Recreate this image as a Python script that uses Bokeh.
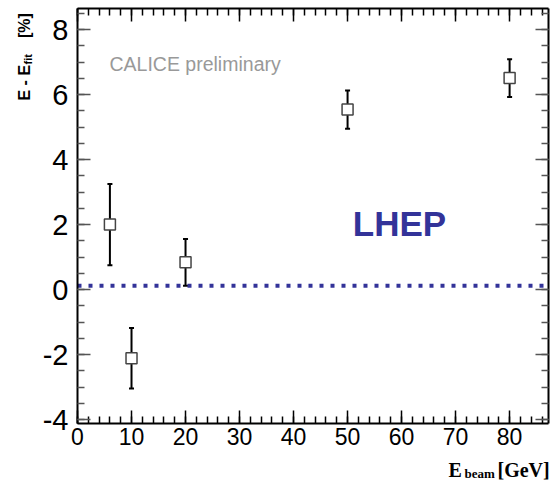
import math
from bokeh.plotting import figure
from bokeh.models import (Range1d, LinearAxis, SingleIntervalTicker, Whisker, TeeHead,
                          ColumnDataSource, Label, CustomJSTickFormatter)
from bokeh.embed import file_html
from bokeh.resources import INLINE

# ---- data ----
beam_energy = [6, 10, 20, 50, 80]            # GeV
residual = [2.0, -2.11, 0.84, 5.54, 6.51]    # E - E_fit [%]
residual_err = [1.25, 0.93, 0.72, 0.59, 0.58]
fit_line_level = 0.12
x_ticks_interval = 10
y_ticks_interval = 2

# ---- layout: axes box inside the canvas ----
W, H = 551, 481
L, R, T, B = 77, 3, 8, 58          # box edges (px) measured from canvas sides
x0, x1 = 0.0, 87.2                 # axis extent
y0, y1 = -4.12, 8.65
bw, bh = W - L - R, H - T - B
kx = (x1 - x0) / bw
ky = (y1 - y0) / bh


def dx(px):
    return x0 + (px - L) * kx


def dy(py):
    return y1 - (py - T) * ky


p = figure(width=W, height=H,
           x_range=Range1d(dx(0), dx(W)), y_range=Range1d(dy(H), dy(0)),
           output_backend="svg", toolbar_location=None,
           x_axis_type=None, y_axis_type=None,
           min_border=0, min_border_left=0, min_border_right=0,
           min_border_top=0, min_border_bottom=0)
p.outline_line_color = None
p.background_fill_color = "white"
p.border_fill_color = "white"
p.xgrid.visible = False
p.ygrid.visible = False

hyphen_fmt = "return Math.round(tick).toString()"


def style_axis(ax, interval, nminor, labels, font_size=None, standoff=0, tick_color="black"):
    ax.ticker = SingleIntervalTicker(interval=interval, num_minor_ticks=nminor)
    ax.axis_line_color = "black"
    ax.axis_line_width = 2
    ax.major_tick_in = 13
    ax.major_tick_out = 0
    ax.minor_tick_in = 7
    ax.minor_tick_out = 0
    ax.major_tick_line_color = tick_color
    ax.minor_tick_line_color = tick_color
    ax.major_tick_line_width = 1.5
    ax.minor_tick_line_width = 1.5
    if labels:
        ax.formatter = CustomJSTickFormatter(code=hyphen_fmt)
        ax.major_label_text_font = "Liberation Sans"
        ax.major_label_text_font_size = font_size
        ax.major_label_text_color = "black"
        ax.major_label_standoff = standoff
    else:
        ax.formatter = CustomJSTickFormatter(code="return ''")
        ax.major_label_standoff = 0
        ax.major_label_text_font_size = "1px"


bottom = LinearAxis(fixed_location=y0, bounds=(x0, x1))
style_axis(bottom, x_ticks_interval, 5, True, "23px", 4)
p.add_layout(bottom, "below")
top = LinearAxis(fixed_location=y1, bounds=(x0, x1))
style_axis(top, x_ticks_interval, 5, False)
p.add_layout(top, "above")
left = LinearAxis(fixed_location=x0, bounds=(y0, y1))
style_axis(left, y_ticks_interval, 4, True, "29px", 9, tick_color="#555555")
p.add_layout(left, "left")
right = LinearAxis(fixed_location=x1, bounds=(y0, y1))
style_axis(right, y_ticks_interval, 4, False, tick_color="#555555")
p.add_layout(right, "right")

# fit line (dotted) across the axis box
p.line(x=[x0, x1], y=[fit_line_level, fit_line_level], line_color="#333399",
       line_width=4, line_dash="4 7")

src = ColumnDataSource(dict(
    x=beam_energy, y=residual,
    upper=[v + e for v, e in zip(residual, residual_err)],
    lower=[v - e for v, e in zip(residual, residual_err)],
))
p.add_layout(Whisker(source=src, base="x", upper="upper", lower="lower",
                     line_color="black", line_width=2,
                     upper_head=TeeHead(size=5, line_width=2, line_color="black"),
                     lower_head=TeeHead(size=5, line_width=2, line_color="black")))
p.scatter("x", "y", source=src, marker="square", size=11, fill_color="white",
          line_color="#444444", line_width=1.5)

# texts
p.add_layout(Label(x=dx(109), y=dy(63.3), text="CALICE preliminary", text_font="Liberation Sans",
                   text_font_size="19.5px", text_color="#999999", text_align="left",
                   text_baseline="alphabetic"))
p.add_layout(Label(x=dx(399), y=dy(223), text="LHEP", text_font="Liberation Sans",
                   text_font_size="35px", text_font_style="bold", text_color="#333399",
                   text_align="center", text_baseline="alphabetic"))

# y axis title (rotated, with subscript)
for txt, px, py, fs in [("E - E", 24, 100, "16px"), ("fit", 27, 64, "11px"), ("[%]", 24, 37.5, "16px")]:
    p.add_layout(Label(x=dx(px), y=dy(py), text=txt, text_font="Liberation Sans",
                       text_font_size=fs, text_font_style="bold", text_color="black",
                       angle=math.pi / 2, text_align="left", text_baseline="alphabetic"))

# x axis title (with subscript)
for txt, px, py, fs in [("E", 448, 469, "20px"), ("beam", 464, 473, "13px"), ("[GeV]", 497, 469, "20px")]:
    p.add_layout(Label(x=dx(px), y=dy(py), text=txt, text_font="Liberation Serif",
                       text_font_size=fs, text_font_style="bold", text_color="black",
                       text_align="left", text_baseline="alphabetic"))

open("out.html", "w").write(file_html(p, INLINE))
